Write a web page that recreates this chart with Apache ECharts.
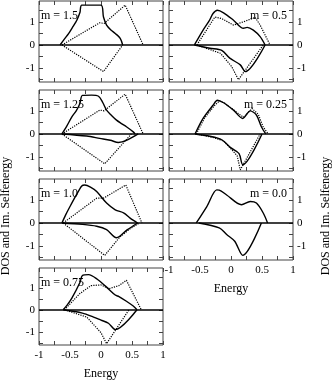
<!DOCTYPE html>
<html>
<head>
<meta charset="UTF-8">
<script src="https://cdn.jsdelivr.net/npm/echarts@6/dist/echarts.min.js"></script>
<style>body{margin:0;background:#fff;}</style>
</head>
<body>
<div id="chart1" style="width:332px;height:381px;"></div>
<script type="text/javascript">
// x ticks / y ticks
var xTicks = [-1, -0.5, 0, 0.5, 1];
var yLabels = [-1, 0, 1];
var yTicks = [-1.5, -1, -0.5, 0, 0.5, 1, 1.5];

// m = 1.5
var dos15 = [[-0.66,0],[-0.6,0.22],[-0.52,0.5],[-0.45,0.8],[-0.39,1.07],[-0.34,1.4],[-0.31,1.72],[0,1.72],[0.04,1.21],[0.09,0.86],[0.16,0.65],[0.23,0.5],[0.31,0.29],[0.35,0]];
var dos15dot = [[-0.63,0],[-0.02,0.96],[0.05,0.93],[0.39,1.72],[0.68,0]];
var sig15dot = [[-0.63,0],[0.04,-1.15],[0.35,0]];
// m = 1.25
var dos125 = [[-0.63,0],[-0.55,0.35],[-0.47,0.74],[-0.4,1.0],[-0.34,1.32],[-0.3,1.67],[-0.15,1.68],[-0.04,1.63],[0.03,1.35],[0.09,1.03],[0.17,0.8],[0.25,0.6],[0.33,0.45],[0.41,0.31],[0.52,0.09],[0.55,0]];
var sig125 = [[-0.63,0],[-0.23,-0.09],[-0.02,-0.19],[0.15,-0.27],[0.28,-0.37],[0.41,-0.28],[0.6,0]];
var dos125dot = [[-0.63,0],[-0.02,1.03],[0.05,1.0],[0.39,1.72],[0.68,0]];
var sig125dot = [[-0.63,0],[0.06,-1.29],[0.49,0]];
// m = 1.0
var dos10 = [[-0.63,0],[-0.57,0.35],[-0.5,0.71],[-0.4,1.2],[-0.31,1.6],[-0.26,1.64],[-0.17,1.55],[-0.07,1.36],[0.09,0.86],[0.23,0.57],[0.37,0.43],[0.47,0.21],[0.59,0]];
var sig10 = [[-0.63,0],[-0.3,-0.06],[-0.07,-0.14],[0.09,-0.29],[0.25,-0.64],[0.42,-0.3],[0.59,0]];
var dos10dot = [[-0.61,0],[-0.07,1.07],[0.04,1.07],[0.4,1.64],[0.66,0]];
var sig10dot = [[-0.61,0],[0.06,-1.4],[0.3,-0.62],[0.47,-0.25],[0.62,0]];
// m = 0.75
var dos075 = [[-0.61,0],[-0.55,0.2],[-0.47,0.53],[-0.34,1.24],[-0.3,1.56],[-0.2,1.6],[-0.06,1.39],[0.09,1.03],[0.23,0.67],[0.29,0.6],[0.41,0.39],[0.52,0.17],[0.58,0]];
var sig075 = [[-0.61,0],[-0.3,-0.15],[-0.12,-0.33],[0.0,-0.47],[0.12,-0.61],[0.23,-0.9],[0.58,0]];
var dos075dot = [[-0.59,0],[-0.34,0.74],[-0.16,1.1],[0.0,1.13],[0.13,0.96],[0.29,1.1],[0.41,1.34],[0.65,0]];
var sig075dot = [[-0.59,0],[-0.23,-0.33],[0.0,-1.04],[0.09,-1.54],[0.45,0]];
// m = 0.5
var dos05 = [[-0.59,0],[-0.45,0.64],[-0.35,1.05],[-0.29,1.36],[-0.22,1.5],[-0.12,1.39],[0.04,1.07],[0.2,0.72],[0.26,0.76],[0.36,0.64],[0.47,0.36],[0.55,0]];
var sig05 = [[-0.59,0],[-0.34,-0.14],[-0.15,-0.23],[-0.02,-0.57],[0.15,-0.86],[0.23,-1.15],[0.55,0]];
var dos05dot = [[-0.55,0],[-0.26,1.21],[-0.15,1.14],[0.04,0.86],[0.2,1.0],[0.39,1.19],[0.47,0.86],[0.63,0]];
var sig05dot = [[-0.55,0],[-0.17,-0.36],[0.01,-0.93],[0.12,-1.5],[0.52,0]];
// m = 0.25
var dos025 = [[-0.58,0],[-0.45,0.67],[-0.29,1.24],[-0.22,1.46],[-0.12,1.35],[0.04,1.03],[0.19,0.67],[0.31,1.0],[0.41,0.82],[0.49,0.31],[0.56,0]];
var sig025 = [[-0.58,0],[-0.34,-0.1],[-0.15,-0.25],[0.0,-0.6],[0.13,-0.85],[0.19,-1.33],[0.5,0]];
var dos025dot = [[-0.56,0],[-0.43,0.67],[-0.27,1.22],[-0.19,1.42],[-0.1,1.33],[0.06,1.0],[0.2,0.72],[0.34,1.1],[0.44,0.85],[0.52,0.3],[0.6,0]];
var sig025dot = [[-0.56,0],[-0.3,-0.14],[-0.12,-0.3],[0.02,-0.7],[0.1,-0.95],[0.15,-1.55],[0.47,0]];
// m = 0.0
var dos00 = [[-0.56,0],[-0.39,0.71],[-0.23,1.43],[-0.19,1.42],[-0.07,1.21],[0.17,0.79],[0.31,0.93],[0.41,0.86],[0.52,0.43],[0.59,0]];
var sig00 = [[-0.52,0],[-0.19,-0.21],[-0.07,-0.5],[0.06,-0.79],[0.19,-1.4],[0.49,0]];

var panels = [
    {label: 'm = 1.5',  col: 0, row: 0, solid: [dos15], dotted: [dos15dot, sig15dot]},
    {label: 'm = 1.25', col: 0, row: 1, solid: [dos125, sig125], dotted: [dos125dot, sig125dot]},
    {label: 'm = 1.0',  col: 0, row: 2, solid: [dos10, sig10], dotted: [dos10dot, sig10dot]},
    {label: 'm = 0.75', col: 0, row: 3, solid: [dos075, sig075], dotted: [dos075dot, sig075dot], xLab: true},
    {label: 'm = 0.5',  col: 1, row: 0, solid: [dos05, sig05], dotted: [dos05dot, sig05dot]},
    {label: 'm = 0.25', col: 1, row: 1, solid: [dos025, sig025], dotted: [dos025dot, sig025dot]},
    {label: 'm = 0.0',  col: 1, row: 2, solid: [dos00, sig00], dotted: [], xLab: true},
];

var font = 'Liberation Serif';
var colLeft = [39, 169];
var rowTop = [1, 90, 179, 268];
var W = 124, H = 81;
var frame = '#444';

var grid = [], xAxis = [], yAxis = [], series = [], graphic = [];

panels.forEach(function (p, i) {
    grid.push({left: colLeft[p.col], top: rowTop[p.row], width: W, height: H,
        show: true, borderColor: frame, borderWidth: 1, backgroundColor: 'transparent'});
    ['bottom', 'top'].forEach(function (pos) {
        var lab = pos === 'bottom' && p.xLab;
        xAxis.push({
            type: 'value', gridIndex: i, position: pos, min: -1, max: 1, interval: 0.5,
            axisLine: {show: false, onZero: false},
            axisTick: {show: true, inside: true, length: 4, lineStyle: {color: frame}},
            minorTick: {show: true, splitNumber: 2, length: 4, lineStyle: {color: frame}},
            splitLine: {show: false},
            axisLabel: {show: lab, margin: 5, color: '#000', fontFamily: font, fontSize: 11},
            name: lab ? 'Energy' : '', nameLocation: 'middle', nameGap: 23,
            nameTextStyle: {color: '#000', fontFamily: font, fontSize: 12},
        });
    });
    ['left', 'right'].forEach(function (pos) {
        var lab = (pos === 'left' && p.col === 0) || (pos === 'right' && p.col === 1);
        yAxis.push({
            type: 'value', gridIndex: i, position: pos, min: -1.6, max: 1.9,
            axisLine: {show: false, onZero: false},
            axisTick: {show: true, inside: true, length: 4, customValues: yTicks, lineStyle: {color: frame}},
            splitLine: {show: false},
            axisLabel: {show: lab, margin: 4, customValues: yLabels, color: '#000', fontFamily: font, fontSize: 11},
        });
    });
    p.solid.forEach(function (d, k) {
        var s = {type: 'line', xAxisIndex: 2 * i, yAxisIndex: 2 * i, data: d, symbol: 'none',
            smooth: 0.3, lineStyle: {color: '#000', width: 1.4}};
        if (k === 0) {
            s.markLine = {silent: true, symbol: 'none', label: {show: false},
                lineStyle: {color: '#000', width: 1.6, type: 'solid'}, data: [{yAxis: 0}]};
        }
        series.push(s);
    });
    p.dotted.forEach(function (d) {
        series.push({type: 'line', xAxisIndex: 2 * i, yAxisIndex: 2 * i, data: d, symbol: 'none',
            lineStyle: {color: '#000', width: 1.2, type: 'dotted'}});
    });
    var t = {type: 'text', top: rowTop[p.row] + 9,
        style: {text: p.label, fill: '#000', font: '12px ' + font}};
    if (p.col === 0) t.left = colLeft[0] + 2; else t.right = 332 - 287;
    graphic.push(t);
});

['left', 'right'].forEach(function (side) {
    graphic.push({type: 'text', x: side === 'left' ? 6 : 326, y: 216, rotation: Math.PI / 2,
        style: {text: 'DOS and Im. Selfenergy', fill: '#000', font: '12px ' + font,
            textAlign: 'center', textVerticalAlign: 'middle'}});
});

var chart1 = echarts.init(document.getElementById('chart1'));
chart1.setOption({
    animation: false,
    backgroundColor: '#fff',
    grid: grid, xAxis: xAxis, yAxis: yAxis, series: series, graphic: graphic
});
</script>
</body>
</html>
